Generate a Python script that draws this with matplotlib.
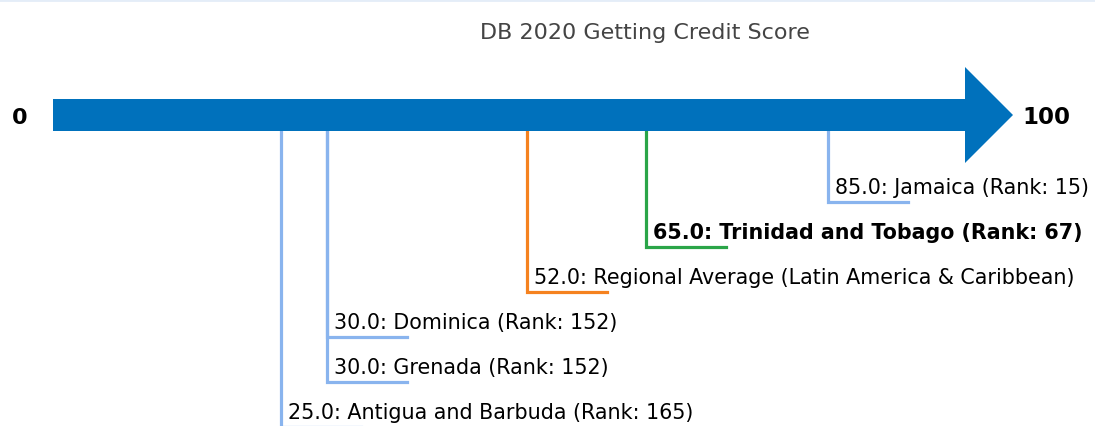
import matplotlib.pyplot as plt
from matplotlib.lines import Line2D

# data
economies = ["Jamaica", "Trinidad and Tobago", "Regional Average (Latin America & Caribbean)",
             "Dominica", "Grenada", "Antigua and Barbuda"]
scores = [85.0, 65.0, 52.0, 30.0, 30.0, 25.0]
ranks = [15, 67, None, 152, 152, 165]
highlight = "Trinidad and Tobago"
title = "DB 2020 Getting Credit Score"

blue = '#0071bc'
light_blue = '#89b4ee'
orange = '#f5821f'
green = '#2aa548'

fig = plt.figure(figsize=(10.95, 4.27), dpi=100)
ax = fig.add_axes([0, 0, 1, 1])
px = 9.12  # pixels per score unit
ax.set_xlim(-53 / px, (1095 - 53) / px)
ax.set_ylim(427, 0)
ax.axis('off')

# the scale arrow
arrow_y = 116
ax.arrow(0, arrow_y, 100 + 48 / px, 0, width=32, head_width=96, head_length=48 / px,
         length_includes_head=True, color=blue, zorder=3, linewidth=0)
ax.text(-33 / px, arrow_y + 2, "0", fontsize=16, fontweight='bold', ha='center', va='center')
ax.text(100 + 81 / px, arrow_y + 2, "100", fontsize=16.5, fontweight='bold', ha='center', va='center')

ax.text(592 / px, 33, title, fontsize=16, color='#444444', ha='center', va='center')

# leader lines and labels
for i, (name, s, r) in enumerate(zip(economies, scores, ranks)):
    y = 203 + 45 * i
    if r is None:
        c = orange
        label = f"{s:.1f}: {name}"
    else:
        c = green if name == highlight else light_blue
        label = f"{s:.1f}: {name} (Rank: {r})"
    ax.plot([s, s, s + 80 / px], [arrow_y, y, y], color=c, lw=2.3, zorder=1,
            solid_joinstyle='miter')
    ax.text(s + 7 / px, y - 15, label, fontsize=14.9, ha='left', va='center',
            fontweight='bold' if name == highlight else 'normal')

fig.add_artist(Line2D([0, 1], [0.998, 0.998], transform=fig.transFigure, color='#e4edf8', lw=2))

plt.savefig("out.png", dpi=100)
